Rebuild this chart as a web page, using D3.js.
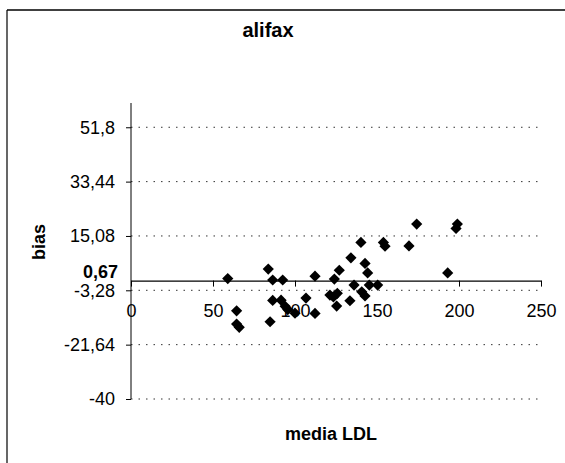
<!DOCTYPE html>
<html>
<head>
<meta charset="utf-8">
<script src="https://cdn.jsdelivr.net/npm/d3@7"></script>
<style>
  body { margin: 0; background: #fff; }
  svg text { font-family: "Liberation Sans", Arial, sans-serif; fill: #000; }
</style>
</head>
<body>
<div id="chart"></div>
<script>
var width = 565, height = 463;

// media LDL (x) and bias (y)
var mediaLDL = [59.0, 64.4, 64.4, 66.0, 83.7, 84.8, 86.4, 92.5, 86.4, 91.5,
                94.0, 95.6, 100.0, 106.7, 112.2, 112.2, 121.3, 123.4, 125.8, 125.4,
                124.0, 127.0, 133.5, 136.0, 134.1, 140.2, 142.7, 144.3, 140.7, 142.7,
                145.3, 150.4, 153.9, 154.9, 169.5, 174.2, 199.0, 198.2, 193.1];
var bias = [0.7, -10.2, -14.7, -15.8, 3.9, -13.9, 0.2, 0.2, -6.7, -6.6,
            -8.7, -9.8, -11.0, -5.9, -11.1, 1.5, -4.9, -5.5, -4.3, -8.6,
            0.5, 3.5, -6.8, -1.5, 7.7, 12.9, 5.8, 2.6, -3.8, -5.2,
            -1.5, -1.5, 12.9, 11.6, 11.7, 19.1, 19.1, 17.6, 2.6];

var yTicks = [51.8, 33.44, 15.08, -3.28, -21.64, -40];
var meanBias = 0.67;
var xTicks = [0, 50, 100, 150, 200, 250];

var svg = d3.select("#chart")
            .append("svg")
            .attr("width", width)
            .attr("height", height);

// frame
svg.append("line").attr("x1", 7).attr("x2", 565).attr("y1", 10).attr("y2", 10)
   .attr("stroke", "#000").attr("stroke-width", 1.5);
svg.append("line").attr("x1", 7).attr("x2", 7).attr("y1", 10).attr("y2", 463)
   .attr("stroke", "#000").attr("stroke-width", 1.2);

var x = d3.scaleLinear().domain([0, 250]).range([131, 541]);
var y = d3.scaleLinear().domain([-40, 60]).range([399, 103]);

var fmt = function (v) { return String(v).replace(".", ","); };

// dotted grid lines
svg.selectAll(".grid")
   .data(yTicks)
   .enter().append("line")
   .attr("class", "grid")
   .attr("x1", x(0)).attr("x2", x(250))
   .attr("y1", function (d) { return y(d); })
   .attr("y2", function (d) { return y(d); })
   .attr("stroke", "#333")
   .attr("stroke-width", 1)
   .attr("stroke-dasharray", "1.5,6");

// y axis
var yAxis = svg.append("g")
   .attr("transform", "translate(" + x(0) + ",0)")
   .call(d3.axisLeft(y).tickValues(yTicks).tickSize(5).tickFormat(fmt));
yAxis.select(".domain").attr("stroke", "#000").attr("d", "M0," + y(60) + "V" + y(-40));
yAxis.selectAll(".tick line").attr("stroke", "#000");
yAxis.selectAll(".tick text")
   .attr("x", -16)
   .style("font-size", "18px")
   .style("font-family", "'Liberation Sans', Arial, sans-serif");

// x axis crossing at 0
var xAxis = svg.append("g")
   .attr("transform", "translate(0," + y(0) + ")")
   .call(d3.axisBottom(x).tickValues(xTicks).tickSize(6).tickSizeOuter(0));
xAxis.select(".domain").attr("stroke", "#000").attr("stroke-width", 1.3);
xAxis.selectAll(".tick line").attr("stroke", "#000");
xAxis.selectAll(".tick text")
   .attr("y", 24)
   .style("font-size", "18px")
   .style("font-family", "'Liberation Sans', Arial, sans-serif");

// mean label
svg.append("text")
   .attr("x", 118).attr("y", y(meanBias) - 1)
   .attr("text-anchor", "end")
   .style("font-size", "18px")
   .style("font-weight", "bold")
   .text(fmt(meanBias));

// points
svg.selectAll(".pt")
   .data(mediaLDL)
   .enter().append("path")
   .attr("class", "pt")
   .attr("d", d3.symbol().type(d3.symbolDiamond2).size(80))
   .attr("transform", function (d, i) {
     return "translate(" + x(d) + "," + y(bias[i]) + ")";
   })
   .attr("fill", "#000");

// titles
svg.append("text")
   .attr("x", 268).attr("y", 37)
   .attr("text-anchor", "middle")
   .style("font-size", "20px")
   .style("font-weight", "bold")
   .text("alifax");

svg.append("text")
   .attr("transform", "translate(45,242) rotate(-90)")
   .attr("text-anchor", "middle")
   .style("font-size", "18px")
   .style("font-weight", "bold")
   .text("bias");

svg.append("text")
   .attr("x", 331).attr("y", 440)
   .attr("text-anchor", "middle")
   .style("font-size", "18px")
   .style("font-weight", "bold")
   .text("media LDL");
</script>
</body>
</html>
